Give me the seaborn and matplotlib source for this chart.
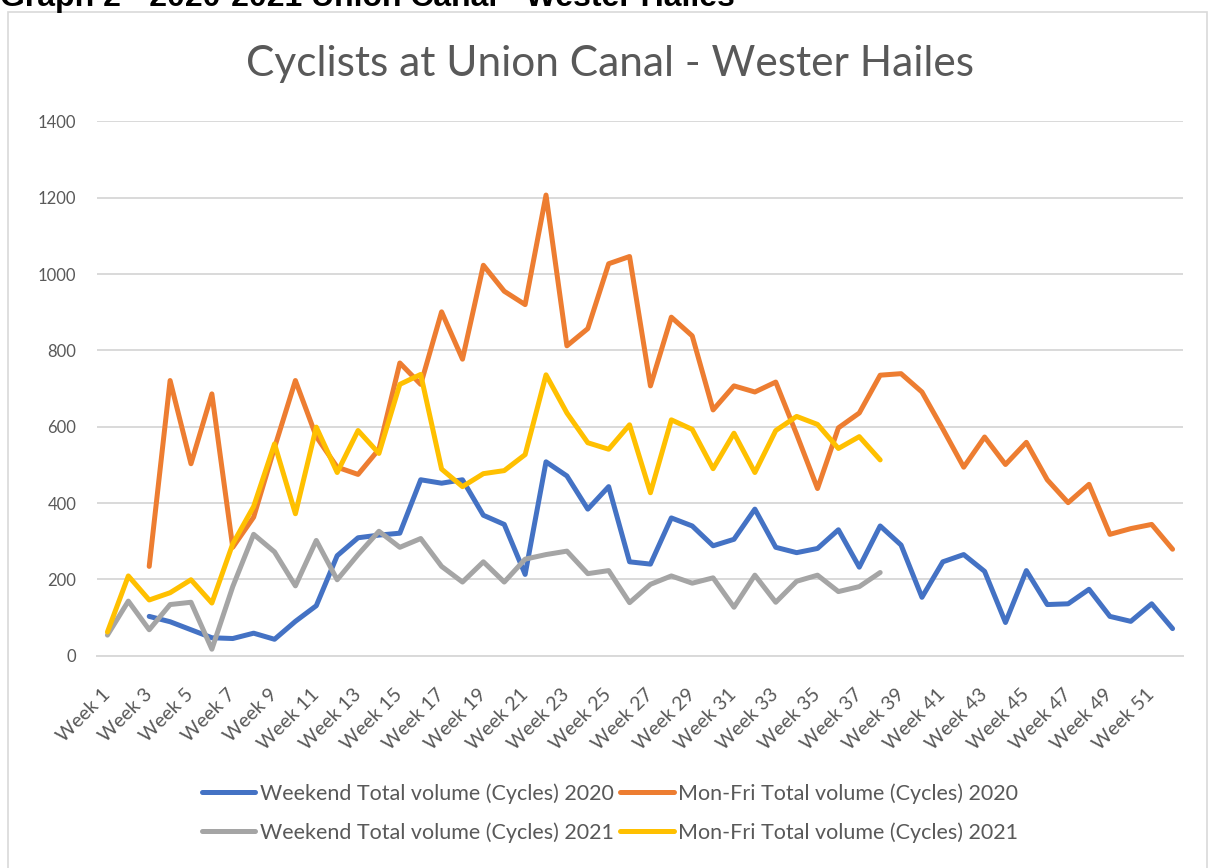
import numpy as np
import pandas as pd
import matplotlib
matplotlib.use('Agg')
import matplotlib.pyplot as plt
from matplotlib.patches import Rectangle
import seaborn as sns

nan = np.nan

# Week labels
weeks = [f'Week {i}' for i in range(1, 53)]

# Values
weekend_2020 = [nan, nan, 103, 89, 68, 47, 45, 59, 43, 90, 131, 262, 309, 316,
                321, 461, 452, 461, 368, 344, 213, 508, 471, 384, 443, 246, 240,
                361, 340, 288, 305, 384, 284, 270, 281, 330, 232, 340, 290, 153,
                246, 265, 221, 87, 223, 134, 136, 174, 103, 90, 136, 71]
monfri_2020 = [nan, nan, 234, 721, 503, 686, 284, 363, 545, 721, 574, 494, 475, 541,
               767, 711, 901, 777, 1023, 955, 920, 1207, 812, 857, 1027, 1046, 707,
               887, 838, 644, 707, 691, 717, 580, 438, 597, 636, 735, 739, 691,
               594, 494, 573, 501, 559, 461, 401, 449, 318, 333, 344, 279]
weekend_2021 = [54, 143, 68, 134, 140, 17, 181, 318, 272, 183, 302, 199, 265, 326,
                284, 307, 234, 193, 246, 193, 253, 265, 274, 215, 223, 139, 187,
                209, 190, 204, 127, 211, 140, 195, 211, 168, 181, 218] + [nan] * 14
monfri_2021 = [62, 209, 146, 165, 199, 138, 293, 391, 555, 372, 599, 480, 590, 530,
               711, 737, 489, 443, 477, 485, 527, 736, 636, 558, 541, 605, 427,
               618, 593, 490, 583, 480, 590, 627, 606, 543, 574, 513] + [nan] * 14

series_names = ['Weekend Total volume (Cycles) 2020',
                'Mon-Fri Total volume (Cycles) 2020',
                'Weekend Total volume (Cycles) 2021',
                'Mon-Fri Total volume (Cycles) 2021']
series_values = [weekend_2020, monfri_2020, weekend_2021, monfri_2021]
colors = ['#4472C4', '#ED7D31', '#A5A5A5', '#FFC000']

# long-form table
frames = []
for name, vals in zip(series_names, series_values):
    frames.append(pd.DataFrame({'week': np.arange(len(weeks)), 'value': vals, 'series': name}))
df = pd.concat(frames, ignore_index=True).dropna()

sns.set_theme(style='white')
plt.rcParams['font.family'] = ['Lato', 'DejaVu Sans']
grey_txt = '#595959'

fig = plt.figure(figsize=(12.15, 8.68), dpi=100)
W, H = 1215, 868
ax = fig.add_axes([97 / W, 1 - 655.7 / H, (1183 - 97) / W, (655.7 - 121.4) / H])

sns.lineplot(data=df, x='week', y='value', hue='series', hue_order=series_names,
             palette=dict(zip(series_names, colors)), linewidth=3.6, ax=ax,
             solid_capstyle='round', solid_joinstyle='round')

ax.set_xlim(-0.5, 51.5)
ax.set_ylim(0, 1400)
ax.set_yticks(range(0, 1401, 200))
ax.set_xticks(range(0, 52, 2))
ax.set_xticklabels(weeks[::2], rotation=45, ha='right', va='center',
                   rotation_mode='anchor')
ax.set_xlabel('')
ax.set_ylabel('')
ax.tick_params(axis='y', length=0, pad=15, labelsize=12, labelcolor=grey_txt)
ax.tick_params(axis='x', length=0, pad=26, labelsize=14, labelcolor=grey_txt)
ax.yaxis.grid(True, color='#d9d9d9', linewidth=1.4)
ax.set_axisbelow(True)
for s in ['top', 'right', 'left']:
    ax.spines[s].set_visible(False)
ax.spines['bottom'].set_color('#d9d9d9')
ax.spines['bottom'].set_linewidth(1.4)

# legend below the chart, 2 rows
handles, labels = ax.get_legend_handles_labels()
ax.get_legend().remove()
order = [0, 2, 1, 3]
fig.legend([handles[i] for i in order], [labels[i] for i in order], ncol=2,
           loc='center', bbox_to_anchor=(0.502, 1 - 813 / H), frameon=False,
           fontsize=15.5, labelcolor=grey_txt, handlelength=2.5, handletextpad=0.2,
           columnspacing=0.3, labelspacing=0.85)

# title and page header
fig.text(610 / W, 1 - 64 / H, 'Cyclists at Union Canal - Wester Hailes',
         ha='center', va='center', fontsize=30.5, color=grey_txt)
fig.text(0.0, 1 - 6 / H, 'Graph 2 - 2020-2021 Union Canal - Wester Hailes',
         ha='left', va='baseline', fontsize=23, fontweight='bold',
         family=['Liberation Sans', 'DejaVu Sans'], color='black')

# chart border
fig.patches.append(Rectangle((8 / W, -0.01), (1207 - 8) / W, 1 - 12 / H + 0.01,
                             transform=fig.transFigure, fill=False,
                             edgecolor='#d9d9d9', linewidth=1.2))

fig.savefig('out.png', dpi=100)
